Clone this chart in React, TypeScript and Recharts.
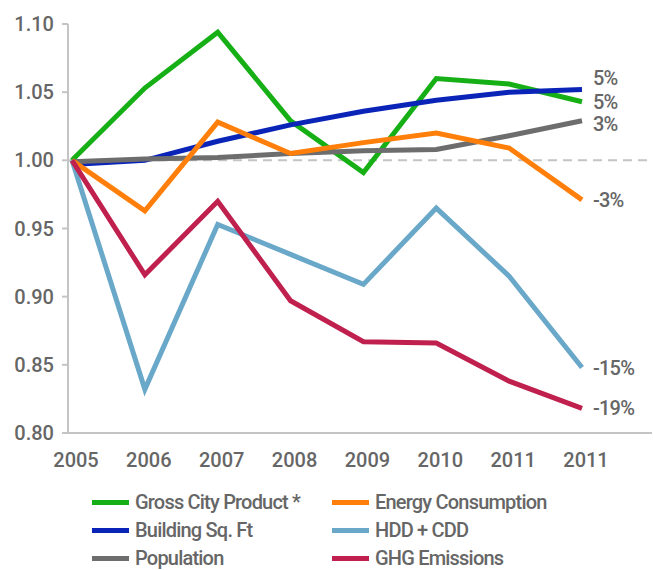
import React from 'react'
import {
  LineChart,
  Line,
  XAxis,
  YAxis,
  ReferenceLine,
  Legend,
  LabelList,
} from 'recharts'

const years = ['2005', '2006', '2007', '2008', '2009', '2010', '2011', '2011']

const grossCityProduct = [1.0, 1.053, 1.094, 1.029, 0.991, 1.06, 1.056, 1.043]
const buildingSqFt = [0.997, 1.0, 1.014, 1.026, 1.036, 1.044, 1.05, 1.052]
const population = [0.999, 1.001, 1.002, 1.005, 1.007, 1.008, 1.018, 1.029]
const energyConsumption = [1.0, 0.963, 1.028, 1.005, 1.013, 1.02, 1.009, 0.971]
const hddCdd = [1.0, 0.832, 0.953, 0.931, 0.909, 0.965, 0.915, 0.848]
const ghgEmissions = [1.0, 0.916, 0.97, 0.897, 0.867, 0.866, 0.838, 0.818]

const yTicks = [0.8, 0.85, 0.9, 0.95, 1.0, 1.05, 1.1]

// drawn bottom -> top
const series = [
  { key: 'gcp', name: 'Gross City Product *', values: grossCityProduct, end: '5%', color: '#16b016', dy: 0 },
  { key: 'sqft', name: 'Building Sq. Ft', values: buildingSqFt, end: '5%', color: '#0a24b8', dy: -11 },
  { key: 'pop', name: 'Population', values: population, end: '3%', color: '#6d6d6d', dy: 3 },
  { key: 'energy', name: 'Energy Consumption', values: energyConsumption, end: '-3%', color: '#ff7f0a', dy: 0 },
  { key: 'hdd', name: 'HDD + CDD', values: hddCdd, end: '-15%', color: '#6aa8c9', dy: 0 },
  { key: 'ghg', name: 'GHG Emissions', values: ghgEmissions, end: '-19%', color: '#c0204e', dy: 0 },
]

const legendOrder = ['gcp', 'energy', 'sqft', 'hdd', 'pop', 'ghg']

const data = years.map((year, i) => {
  const row: any = { year }
  series.forEach(s => { row[s.key] = s.values[i] })
  return row
})

const FONT = 'Roboto, sans-serif'
const TEXT = '#666666'

const LegendGrid = () => (
  <div style={{
    height: 97, boxSizing: 'border-box', paddingTop: 15, paddingLeft: 92,
    display: 'grid', gridTemplateColumns: '240px 240px', fontFamily: FONT,
    fontSize: 20, fontWeight: 500, color: TEXT, lineHeight: '28px', letterSpacing: -0.8,
  }}>
    {legendOrder.map(k => {
      const s = series.find(x => x.key === k)!
      return (
        <div key={k} style={{ display: 'flex', alignItems: 'center', whiteSpace: 'nowrap' }}>
          <span style={{ display: 'inline-block', width: 37, height: 5, background: s.color, marginRight: 6 }} />
          {s.name}
        </div>
      )
    })}
  </div>
)

const endLabel = (text: string, dy: number) => (props: any) => {
  const { x, y, index } = props
  if (index !== years.length - 1) return null
  return (
    <text x={x + 11} y={y + dy} dominantBaseline="central" fill={TEXT}
      style={{ fontFamily: FONT, fontSize: 20, fontWeight: 500, letterSpacing: -0.8 }}>
      {text}
    </text>
  )
}

export default function App() {
  return (
    <div style={{ position: 'absolute', left: 0, top: 0 }}>
      <LineChart width={653} height={570} data={data}
        margin={{ top: 24, right: 1, left: 0, bottom: 0 }}>
        <XAxis dataKey="year" height={40} padding={{ left: 4, right: 70 }}
          axisLine={{ stroke: '#c4c4c4', strokeWidth: 2 }} tickLine={false}
          tickSize={0} tickMargin={20} dx={4}
          tick={{ fill: TEXT, fontSize: 20, fontWeight: 500, fontFamily: FONT }} />
        <YAxis domain={[0.8, 1.1]} ticks={yTicks} width={68}
          tickFormatter={(v: number) => v.toFixed(2)}
          axisLine={{ stroke: '#c4c4c4', strokeWidth: 2 }}
          tickLine={{ stroke: '#c4c4c4', strokeWidth: 2 }} tickSize={6} tickMargin={8}
          tick={{ fill: TEXT, fontSize: 20, fontWeight: 500, fontFamily: FONT }} />
        <ReferenceLine y={1} stroke="#c4c4c4" strokeWidth={2} strokeDasharray="9 6" />
        {series.map(s => (
          <Line key={s.key} dataKey={s.key} name={s.name} type="linear" stroke={s.color}
            strokeWidth={5} dot={false} activeDot={false} isAnimationActive={false}>
            <LabelList dataKey={s.key} content={endLabel(s.end, s.dy)} />
          </Line>
        ))}
        <Legend verticalAlign="bottom" content={() => <LegendGrid />} />
      </LineChart>
    </div>
  )
}
